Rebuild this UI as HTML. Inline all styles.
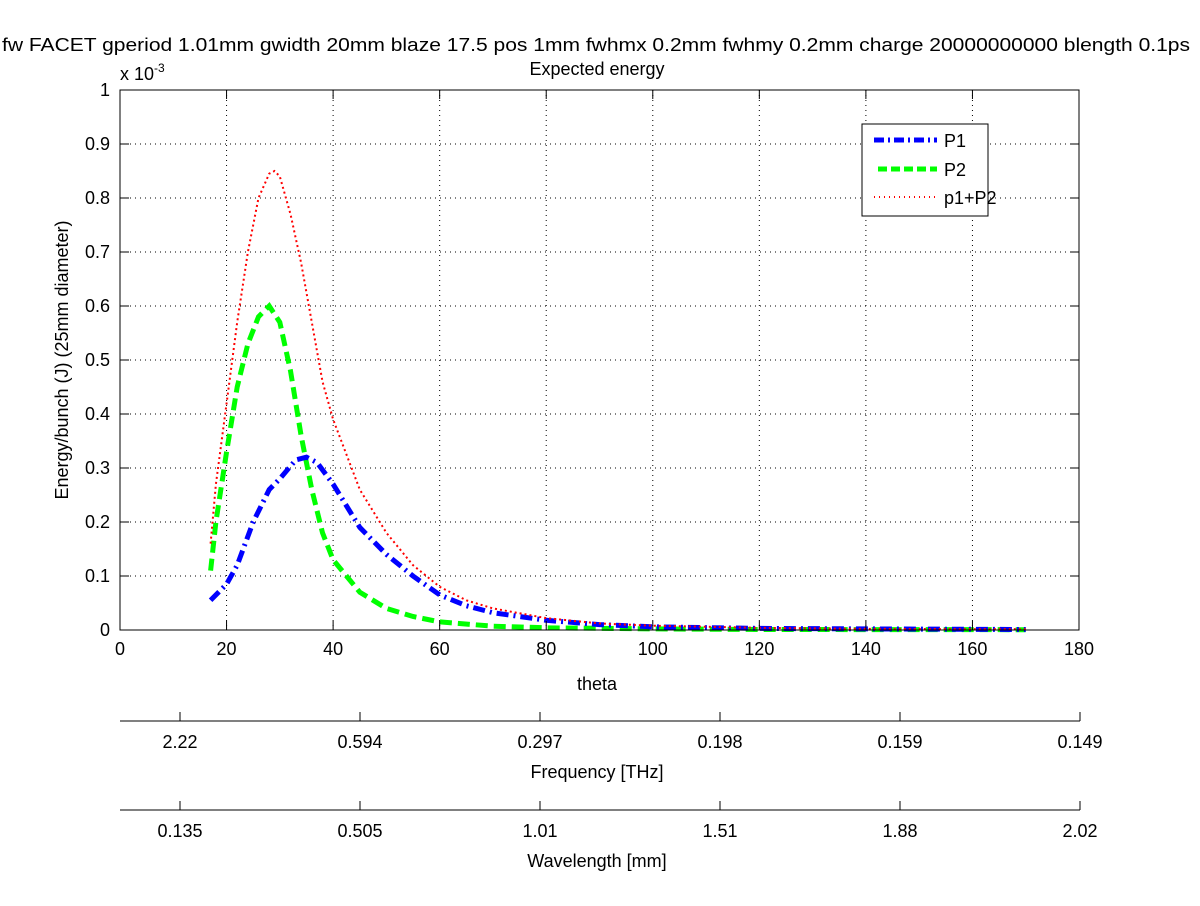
<!DOCTYPE html>
<html><head><meta charset="utf-8"><style>
body{margin:0;background:#fff}
svg text{font-family:"Liberation Sans",sans-serif;font-size:18px;fill:#000}
</style></head><body>
<svg id="chart" width="1200" height="901" viewBox="0 0 1200 901" xmlns="http://www.w3.org/2000/svg">
<rect width="1200" height="901" fill="#fff"/>
<text x="2" y="51" textLength="1188" lengthAdjust="spacingAndGlyphs">fw FACET gperiod 1.01mm gwidth 20mm blaze 17.5 pos 1mm fwhmx 0.2mm fwhmy 0.2mm charge 20000000000 blength 0.1ps</text>
<text x="597" y="75" text-anchor="middle">Expected energy</text>
<text x="120" y="80">x 10<tspan dy="-8" font-size="12">-3</tspan></text>
<g id="grid"></g>
<g id="series"></g>
<rect x="120" y="90" width="959" height="540" fill="none" stroke="#000" stroke-width="1"/>
<g id="axes"></g>
<text x="597" y="690" text-anchor="middle">theta</text>
<text transform="translate(68,360) rotate(-90)" text-anchor="middle">Energy/bunch (J) (25mm diameter)</text>
<g id="sec"></g>
<text x="597" y="778" text-anchor="middle">Frequency [THz]</text>
<text x="597" y="867" text-anchor="middle">Wavelength [mm]</text>
<g>
<rect x="862" y="124" width="126" height="92" fill="#fff" stroke="#000"/>
<line x1="874" y1="140" x2="937" y2="140" stroke="#00f" stroke-width="5" stroke-dasharray="10,4,2,4"/>
<text x="944" y="147">P1</text>
<line x1="878" y1="169" x2="937" y2="169" stroke="#0f0" stroke-width="5" stroke-dasharray="9,4"/>
<text x="944" y="176">P2</text>
<line x1="874" y1="197" x2="937" y2="197" stroke="#f00" stroke-width="2" stroke-dasharray="1,4"/>
<text x="944" y="204">p1+P2</text>
</g>
</svg>
<script>
const xTicks=[0,20,40,60,80,100,120,140,160,180];
const yTicks=[0,0.1,0.2,0.3,0.4,0.5,0.6,0.7,0.8,0.9,1];
const p1Theta=[17,20,22,25,28,30,33,35,37,40,45,50,55,60,65,70,80,90,100,120,140,170];
const p1Vals=[0.055,0.085,0.12,0.2,0.26,0.28,0.315,0.32,0.31,0.27,0.19,0.14,0.1,0.065,0.045,0.032,0.018,0.01,0.006,0.003,0.002,0.001];
const p2Theta=[17,18,20,22,24,26,28,30,32,34,36,38,40,45,50,55,60,70,80,100,120,170];
const p2Vals=[0.11,0.2,0.33,0.45,0.53,0.58,0.6,0.57,0.48,0.36,0.26,0.18,0.13,0.07,0.04,0.025,0.015,0.007,0.004,0.002,0.001,0.0005];
const sumTheta=[17,18,20,22,24,26,28,29,30,32,34,36,38,40,45,50,55,60,65,70,80,90,100,120,140,170];
const sumVals=[0.16,0.27,0.42,0.57,0.7,0.8,0.845,0.85,0.84,0.77,0.68,0.57,0.46,0.39,0.26,0.18,0.12,0.08,0.055,0.04,0.022,0.012,0.008,0.004,0.002,0.0015];
const freqLabels=["2.22","0.594","0.297","0.198","0.159","0.149"];
const waveLabels=["0.135","0.505","1.01","1.51","1.88","2.02"];
const NS="http://www.w3.org/2000/svg";
const X=v=>120+v/180*959, Y=v=>630-v*540;
function mk(t,a,p){const e=document.createElementNS(NS,t);for(const k in a)e.setAttribute(k,a[k]);p.appendChild(e);return e;}
const grid=document.getElementById('grid'),axes=document.getElementById('axes'),ser=document.getElementById('series'),sec=document.getElementById('sec');
xTicks.forEach(v=>{
 if(v>0&&v<180){const g=mk('line',{x1:X(v),x2:X(v),y1:90,y2:630,stroke:'#000','stroke-dasharray':'1,4'},grid);
 
 }
 mk('line',{x1:X(v),x2:X(v),y1:630,y2:621,stroke:'#000'},axes);
 mk('line',{x1:X(v),x2:X(v),y1:90,y2:99,stroke:'#000'},axes);
 const t=mk('text',{x:X(v),y:655,'text-anchor':'middle'},axes);t.textContent=v;
 
 
});
yTicks.forEach(v=>{
 if(v>0&&v<1){const g=mk('line',{x1:120,x2:1079,y1:Y(v),y2:Y(v),stroke:'#000','stroke-dasharray':'1,4'},grid);
 
 }
 mk('line',{x1:120,x2:129,y1:Y(v),y2:Y(v),stroke:'#000'},axes);
 mk('line',{x1:1070,x2:1079,y1:Y(v),y2:Y(v),stroke:'#000'},axes);
 const t=mk('text',{x:110,y:Y(v)+6,'text-anchor':'end'},axes);t.textContent=v;
 
 
});
function series(th,vals,style,name){
 const d=th.map((t,i)=>(i?'L':'M')+X(t).toFixed(1)+','+Y(vals[i]).toFixed(1)).join(' ');
 const p=mk('path',Object.assign({d:d,fill:'none'},style),ser);
 
 
}
series(p2Theta,p2Vals,{stroke:'#0f0','stroke-width':5,'stroke-dasharray':'12,6'},'series-p2');
series(p1Theta,p1Vals,{stroke:'#00f','stroke-width':5,'stroke-dasharray':'12,5,2,5'},'series-p1');
series(sumTheta,sumVals,{stroke:'#f00','stroke-width':2,'stroke-dasharray':'2,3'},'series-p1-plus-p2');
function secAxis(y,labels,name){
 mk('line',{x1:120,x2:1080,y1:y,y2:y,stroke:'#000'},sec);
 labels.forEach((l,i)=>{const x=180+i*180;
  mk('line',{x1:x,x2:x,y1:y,y2:y-9,stroke:'#000'},sec);
  const t=mk('text',{x:x,y:y+27,'text-anchor':'middle'},sec);t.textContent=l;
  
  });
}
secAxis(721,freqLabels,'frequency-tick-label');
secAxis(810,waveLabels,'wavelength-tick-label');
</script>
</body></html>
